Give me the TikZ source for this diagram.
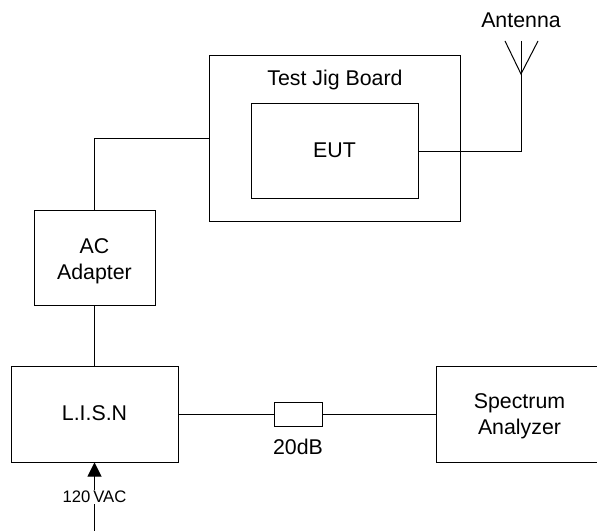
\documentclass[tikz,border=0pt]{standalone}
\usepackage{fontspec}
\setmainfont{Liberation Sans}
\usetikzlibrary{arrows.meta}
\tikzstyle{block} = [rectangle, draw, line width=0.75pt, inner sep=0pt, align=center, font=\fontsize{16pt}{19.5pt}\selectfont]
\tikzstyle{label} = [inner sep=0pt, font=\fontsize{16pt}{19.5pt}\selectfont]
\tikzstyle{wire} = [line width=0.75pt]
\tikzstyle{arrow} = [wire, -{Triangle[length=10.5pt,width=10.5pt]}]

\begin{document}
\begin{tikzpicture}[x=0.75pt,y=-0.75pt]
    \clip (0,0) rectangle (597,531);
    % Boxes
    \node[block, minimum width=188.25pt, minimum height=124.5pt] (jig) at (334.5,139) {};
    \node[block, text depth=2.25pt, minimum width=125.25pt, minimum height=71.25pt] (eut) at (334.5,151.5) {EUT};
    \node[block, minimum width=90.75pt, minimum height=71.25pt] (adapter) at (94.5,258.5) {\rule{0pt}{15.3pt}AC\\Adapter};
    \node[block, text depth=2.25pt, minimum width=125.25pt, minimum height=71.25pt] (lisn) at (94.5,414.5) {L.I.S.N};
    \node[block, minimum width=125.25pt, minimum height=71.25pt] (analyzer) at (519.5,414.5) {\rule{0pt}{13.8pt}Spectrum\\Analyzer};
    \node[block, fill=white, minimum width=36pt, minimum height=18pt] (atten) at (298,414.5) {};

    % Labels
    \node[label] (jiglabel) at (335,80) {Test Jig Board};
    \node[label] (attenlabel) at (298,447) {20dB};
    \node[label] (antlabel) at (521,20) {Antenna};

    % Antenna
    \coordinate (anttip) at (521,74);
    \coordinate (antmast) at (521,41);
    \coordinate (antleft) at (505,41);
    \coordinate (antright) at (538,41);
    \draw[wire] (antleft) -- (anttip) -- (antright);
    \draw[wire] (antmast) -- (anttip);

    % Wires
    \draw[wire] (eut.east) -| (anttip);
    \draw[wire] (adapter.north) |- (jig.west);
    \draw[wire] (adapter) -- (lisn);
    \draw[wire] (lisn) -- (atten);
    \draw[wire] (atten) -- (analyzer);

    % Mains input
    \coordinate (mains) at (94.5,531);
    \draw[arrow] (mains) -- (mains |- lisn.south);
    \node[inner sep=1pt, fill=white, font=\fontsize{12.5pt}{14pt}\selectfont] (vac) at (94.5,497) {120\,VAC};
\end{tikzpicture}
\end{document}
